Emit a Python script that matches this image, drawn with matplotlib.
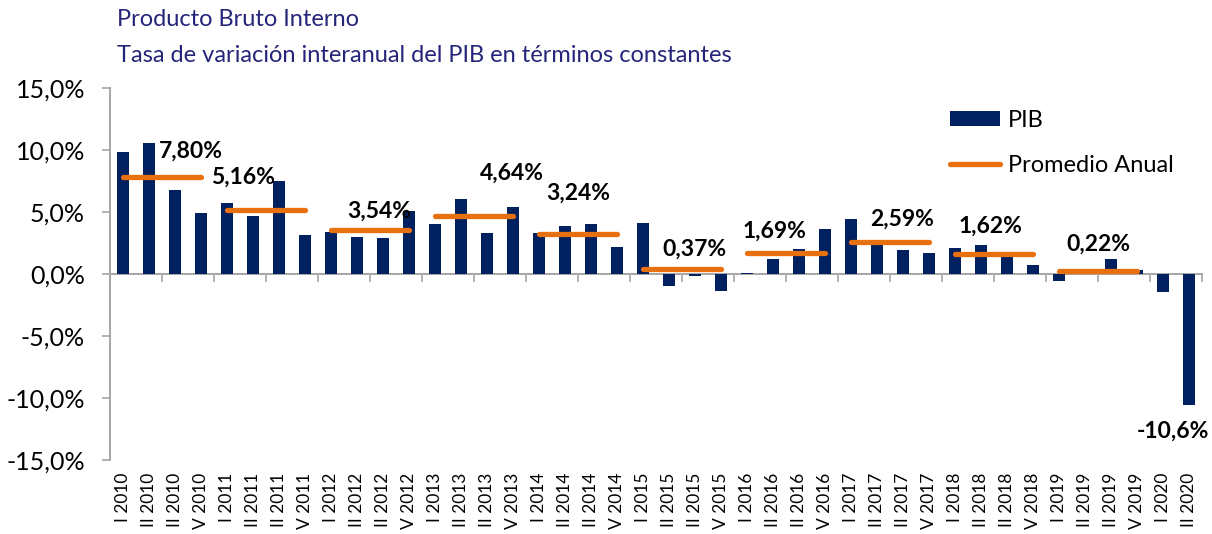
import matplotlib
matplotlib.use("Agg")
import matplotlib.pyplot as plt
from matplotlib.patches import Patch
from matplotlib.lines import Line2D

plt.rcParams['font.family'] = ['Lato', 'DejaVu Sans']

# datos trimestrales (tal como aparecen las etiquetas en el grafico)
trimestres = []
for anio in range(2010, 2021):
    for q in ["I", "II", "II", "V"]:
        trimestres.append(f"{q} {anio}")
trimestres = trimestres[:42]

pib = [9.8, 10.6, 6.8, 4.95,
       5.7, 4.7, 7.5, 3.15,
       3.4, 3.0, 2.9, 5.1,
       4.05, 6.05, 3.3, 5.4,
       3.3, 3.9, 4.0, 2.15,
       4.1, -0.95, -0.2, -1.4,
       0.08, 1.25, 2.05, 3.6,
       4.4, 2.7, 1.95, 1.7,
       2.1, 2.3, 1.8, 0.7,
       -0.55, 0.05, 1.2, 0.3,
       -1.45, -10.6]

anios_prom = [2010, 2011, 2012, 2013, 2014, 2015, 2016, 2017, 2018, 2019]
promedio = [7.80, 5.16, 3.54, 4.64, 3.24, 0.37, 1.69, 2.59, 1.62, 0.22]

# desplazamiento de las etiquetas (pixeles)
lab_dx = [29, -23, 9, 38, 0, 12, -12, 12, -4, 0]
lab_dy = [26, 33, 19, 43, 41, 20, 22, 23, 28, 27]

azul = "#00205F"
naranja = "#E8700E"
gris = "#A6A6A6"
titulo_col = "#25257A"

fig = plt.figure(figsize=(12.12, 5.34), dpi=100)
ax = fig.add_axes([110 / 1212, 1 - 460 / 534, 1092 / 1212, 372 / 534])

x = list(range(len(pib)))
ax.bar(x, pib, width=0.48, color=azul, zorder=2)

for k, (a, p) in enumerate(zip(anios_prom, promedio)):
    i0 = 4 * (a - 2010)
    ax.plot([i0, i0 + 3], [p, p], color=naranja, lw=3.8,
            solid_capstyle="round", zorder=3)
    ax.annotate(f"{p:.2f}%".replace(".", ","), xy=(i0 + 1.5, p),
                xytext=(lab_dx[k], lab_dy[k]), textcoords="offset pixels",
                ha="center", va="center", fontsize=16.5, fontweight="bold",
                color="black", zorder=4)

ax.annotate(f"{pib[-1]:.1f}%".replace(".", ","), xy=(x[-1], pib[-1]),
            xytext=(-16, -26), textcoords="offset pixels",
            ha="center", va="center", fontsize=16.5, fontweight="bold")

ax.set_xlim(-0.5, len(pib) - 0.5)
ax.set_ylim(-15, 15)
ax.set_yticks(range(-15, 16, 5))
ax.set_yticklabels([f"{v:.1f}%".replace(".", ",") for v in range(-15, 16, 5)],
                   fontsize=18)
ax.tick_params(axis="y", length=6, width=1.2, color=gris, pad=12)

for s in ["top", "right"]:
    ax.spines[s].set_visible(False)
ax.spines["left"].set_color(gris)
ax.spines["left"].set_linewidth(1.4)
ax.spines["bottom"].set_position(("data", 0))
ax.spines["bottom"].set_color(gris)
ax.spines["bottom"].set_linewidth(1.4)
ax.spines["bottom"].set_zorder(1)
ax.set_xticks([i + 0.5 for i in range(1, len(pib), 2)])
ax.set_xticklabels([])
ax.tick_params(axis="x", length=6, width=1.2, color=gris, direction="out")

for i, t in enumerate(trimestres):
    ax.annotate(t, xy=(i, 0), xycoords=("data", "axes fraction"),
                xytext=(0, -13), textcoords="offset pixels",
                rotation=90, ha="center", va="top", fontsize=12.5)

fig.text(117 / 1212, 1 - 20 / 534, "Producto Bruto Interno",
         fontsize=17, color=titulo_col, va="center", ha="left")
fig.text(117 / 1212, 1 - 55 / 534,
         "Tasa de variación interanual del PIB en términos constantes",
         fontsize=17, color=titulo_col, va="center", ha="left")

handles = [Patch(facecolor=azul, edgecolor="none"),
           Line2D([0], [0], color=naranja, lw=3.8, solid_capstyle="round")]
ax.legend(handles, ["PIB", "Promedio Anual"], loc="upper left",
          bbox_to_anchor=(950 / 1212, 1 - 110 / 534),
          bbox_transform=fig.transFigure, frameon=False, fontsize=17,
          handlelength=2.1, handleheight=0.6, handletextpad=0.35,
          labelspacing=1.0, borderpad=0, borderaxespad=0)

fig.savefig("out.png", dpi=100)
